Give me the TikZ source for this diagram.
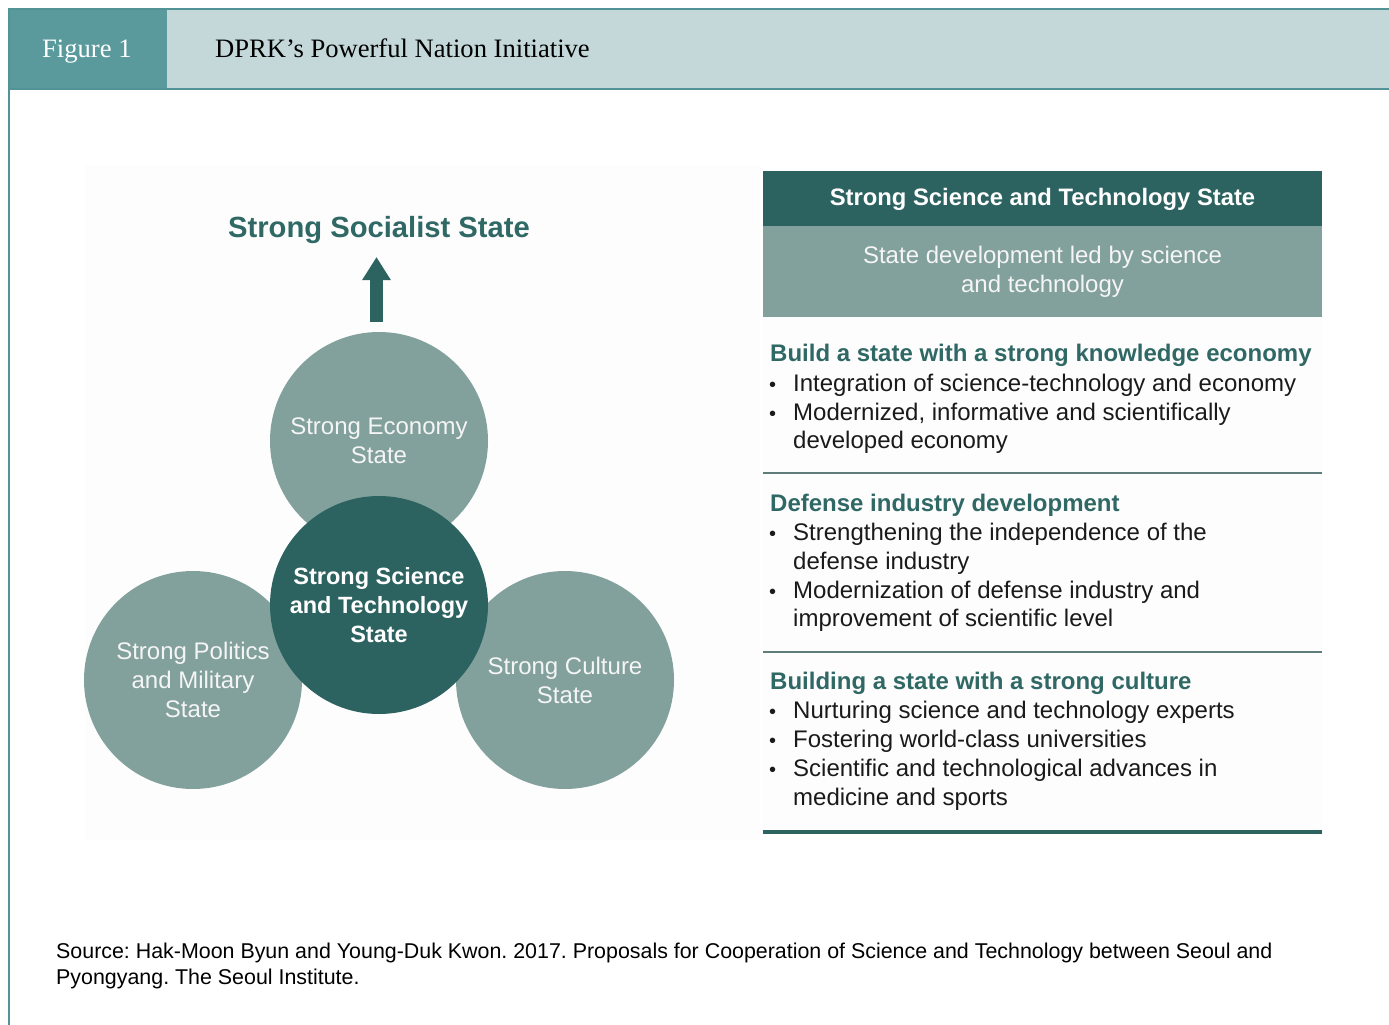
\documentclass[tikz,border=0pt]{standalone}
\usepackage{fontspec}
\setmainfont{Liberation Sans}
\newfontfamily\hdserif{Liberation Serif}
\usetikzlibrary{arrows.meta}
\frenchspacing
\definecolor{hddark}{HTML}{5A9A9D}
\definecolor{hdlight}{HTML}{C4D8DA}
\definecolor{hdline}{HTML}{529397}
\definecolor{tealdark}{HTML}{2C6360}
\definecolor{teallight}{HTML}{82A19D}
\definecolor{tealtitle}{HTML}{2F6864}
\definecolor{sepgray}{HTML}{5F7D7B}
\definecolor{bodytext}{HTML}{1A1A1A}
\begin{document}
\begin{tikzpicture}[x=1pt,y=-1pt,
  lightcirc/.style={circle, fill=teallight, minimum size=218pt, inner sep=0pt,
    align=center, text=white!96!black, font=\fontsize{24}{29}\selectfont},
  darkcirc/.style={circle, fill=tealdark, minimum size=218pt, inner sep=0pt,
    align=center, text=white, font=\fontsize{23.5}{29}\selectfont\bfseries},
  sectitle/.style={anchor=base west, inner sep=0pt, text=tealtitle,
    font=\fontsize{24}{29}\selectfont\bfseries},
  bodyline/.style={anchor=base west, inner sep=0pt, text=bodytext,
    font=\fontsize{24}{29}\selectfont},
  bulletdot/.style={anchor=base west, inner sep=0pt, text=bodytext,
    font=\fontsize{20}{29}\selectfont},
  srcline/.style={anchor=base west, inner sep=0pt, text=black,
    font=\fontsize{21.4}{26}\selectfont},
  hdtext/.style={anchor=base west, inner sep=0pt, font=\hdserif\fontsize{26.6}{30}\selectfont},
  uparrow/.style={draw=tealdark, line width=13pt, -{Triangle[width=27pt,length=23pt]}}
]
\useasboundingbox (0,0) rectangle (1389,1025);
\fill[white] (0,0) rectangle (1389,1025);

% header
\fill[hdlight] (8,8) rectangle (1389,90);
\fill[hddark] (8,8) rectangle (167,90);
\draw[hdline, line width=2.5pt] (8,9) -- (1389,9);
\draw[hdline, line width=2.5pt] (8,89) -- (1389,89);
\draw[hdline, line width=2pt] (9,8) -- (9,1025);
\node[hdtext, text=white] (fig) at (42,58) {Figure 1};
\node[hdtext, text=black] (figtitle) at (215,58) {DPRK’s Powerful Nation Initiative};

% faint backgrounds
\fill[black!0.8] (85,165) rectangle (760,840);
\fill[black!0.6] (763,317) rectangle (1322,832);

% left diagram
\node[inner sep=0pt, text=tealtitle, font=\fontsize{29.2}{34}\selectfont\bfseries]
  (socialist) at (379,230) {Strong Socialist State};
\coordinate (arrB) at (376.5,322);
\coordinate (arrT) at (376.5,257);
\draw[uparrow] (arrB) -- (arrT);

\node[lightcirc] (econ) at (379,441) {Strong Economy\\State};
\node[lightcirc] (polit) at (193,680) {Strong Politics\\and Military\\State};
\node[lightcirc] (cult) at (565,680) {Strong Culture\\State};
\node[darkcirc] (sci) at (379,605) {Strong Science\\and Technology\\State};

% right panel
\fill[tealdark] (763,171) rectangle (1322,226);
\fill[teallight] (763,226) rectangle (1322,317);
\node[inner sep=0pt, text=white, font=\fontsize{23.8}{28}\selectfont\bfseries]
  (phead) at (1042.5,199) {Strong Science and Technology State};
\node[inner sep=0pt, text=white!96!black, align=center, font=\fontsize{24}{29}\selectfont]
  (psub) at (1042.5,272) {State development led by science\\and technology};

% section 1
\node[sectitle] (s1t) at (770,361) {Build a state with a strong knowledge economy};
\node[bulletdot] (s1b1) at (769,391) {•};
\node[bodyline] (s1l1) at (793,391) {Integration of science-technology and economy};
\node[bulletdot] (s1b2) at (769,420) {•};
\node[bodyline] (s1l2) at (793,420) {Modernized, informative and scientifically};
\node[bodyline] (s1l3) at (793,448) {developed economy};
\draw[sepgray, line width=1.3pt] (763,473) -- (1322,473);

% section 2
\node[sectitle] (s2t) at (770,511) {Defense industry development};
\node[bulletdot] (s2b1) at (769,540) {•};
\node[bodyline] (s2l1) at (793,540) {Strengthening the independence of the};
\node[bodyline] (s2l2) at (793,569) {defense industry};
\node[bulletdot] (s2b2) at (769,598) {•};
\node[bodyline] (s2l3) at (793,598) {Modernization of defense industry and};
\node[bodyline] (s2l4) at (793,626) {improvement of scientific level};
\draw[sepgray, line width=1.3pt] (763,652) -- (1322,652);

% section 3
\node[sectitle] (s3t) at (770,689) {Building a state with a strong culture};
\node[bulletdot] (s3b1) at (769,718) {•};
\node[bodyline] (s3l1) at (793,718) {Nurturing science and technology experts};
\node[bulletdot] (s3b2) at (769,747) {•};
\node[bodyline] (s3l2) at (793,747) {Fostering world-class universities};
\node[bulletdot] (s3b3) at (769,776) {•};
\node[bodyline] (s3l3) at (793,776) {Scientific and technological advances in};
\node[bodyline] (s3l4) at (793,805) {medicine and sports};
\draw[tealdark, line width=4.5pt] (763,832) -- (1322,832);

% source
\node[srcline] (src1) at (56,958) {Source: Hak-Moon Byun and Young-Duk Kwon. 2017. Proposals for Cooperation of Science and Technology between Seoul and};
\node[srcline] (src2) at (56,984) {Pyongyang. The Seoul Institute.};
\end{tikzpicture}
\end{document}
